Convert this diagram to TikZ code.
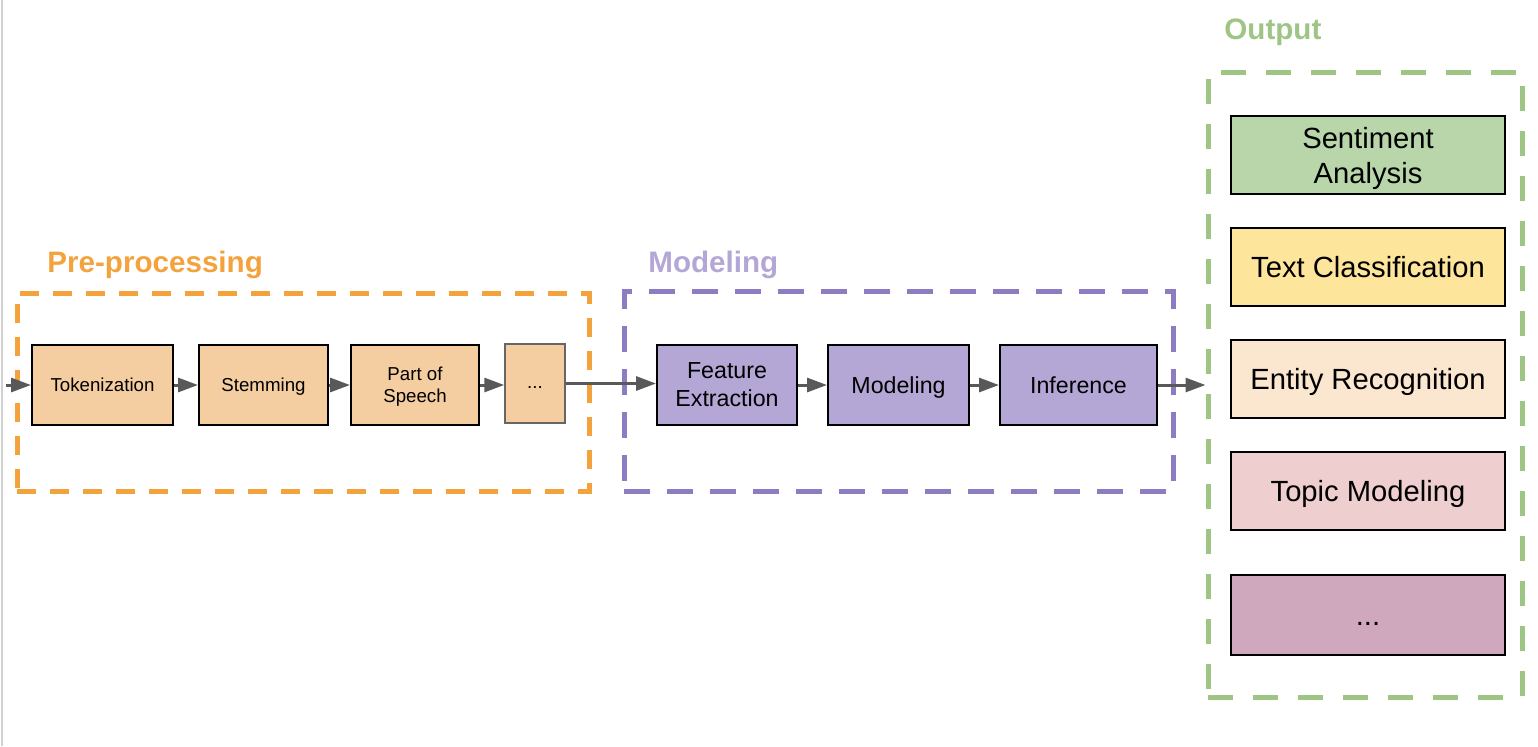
\documentclass[tikz,border=0pt]{standalone}
\usepackage{fontspec}
\setmainfont{Liberation Sans}
\usetikzlibrary{positioning, arrows.meta}

\definecolor{preline}{HTML}{F4A33C}
\definecolor{prefill}{HTML}{F4CDA0}
\definecolor{modline}{HTML}{8E7CC3}
\definecolor{modfill}{HTML}{B4A7D6}
\definecolor{outline}{HTML}{9FC584}
\definecolor{sentfill}{HTML}{B8D6AA}
\definecolor{classfill}{HTML}{FDE59B}
\definecolor{entityfill}{HTML}{FBE6D0}
\definecolor{topicfill}{HTML}{EECECE}
\definecolor{morefill}{HTML}{D0A8BE}
\definecolor{arrowgray}{HTML}{595959}

\begin{document}
\begin{tikzpicture}[x=0.5pt, y=-0.5pt,
    % Styles
    stage/.style={draw=black, line width=1pt, align=center, inner sep=1pt, text depth=0pt, minimum height=40pt},
    prebox/.style={stage, fill=prefill, font=\fontsize{9.35}{11}\selectfont},
    modbox/.style={stage, fill=modfill, font=\fontsize{11.6}{14}\selectfont},
    outbox/.style={stage, minimum width=137pt, minimum height=39pt, font=\fontsize{14.6}{17.5}\selectfont},
    frame/.style={line width=2.5pt, inner sep=0pt},
    title/.style={font=\fontsize{14.8}{17}\selectfont\bfseries, anchor=west, inner sep=0pt, text depth=0pt},
    flow/.style={-{Triangle[length=10pt, width=7pt]}, line width=1.5pt, arrowgray},
]
\useasboundingbox (0,0) rectangle (1538,746);

% Screen edge
\draw[black!18, line width=1pt] (2,0) -- (2,746);

% Dashed frames
\node[frame, draw=preline, dash pattern=on 9.5pt off 7pt, minimum width=286pt, minimum height=99pt] (preframe) at (303, 392) {};
\node[frame, draw=modline, dash pattern=on 13pt off 8.5pt, minimum width=274.5pt, minimum height=100pt] (modframe) at (898.5, 391) {};
\node[frame, draw=outline, dash pattern=on 12.5pt off 10pt, minimum width=157pt, minimum height=312.5pt] (outframe) at (1365, 384.5) {};

% Titles
\node[title, text=preline] (pretitle) at (47, 262) {Pre-processing};
\node[title, text=modfill] (modtitle) at (648, 262) {Modeling};
\node[title, text=outline] (outtitle) at (1224, 29) {Output};

% Pre-processing
\coordinate (start) at (6, 385);
\node[prebox, minimum width=70.5pt] (tok) at (102.5, 385) {Tokenization};
\node[prebox, minimum width=64.5pt] (stem) at (263.5, 385) {Stemming};
\node[prebox, minimum width=64pt] (pos) at (415, 385) {Part of\\Speech};
\node[prebox, draw=black!60, line width=0.75pt, text height=5pt, minimum width=30pt, minimum height=39.5pt] (dots) at (535, 383.5) {...};

% Modeling
\node[modbox, minimum width=70pt] (feat) at (727, 385) {Feature\\Extraction};
\node[modbox, minimum width=70.5pt] (model) at (898.5, 385) {Modeling};
\node[modbox, minimum width=78.5pt] (inf) at (1078.5, 385) {Inference};

% Output
\node[outbox, fill=sentfill] (sent) at (1368, 155) {Sentiment\\Analysis};
\node[outbox, fill=classfill] (class) at (1368, 267) {Text Classification};
\node[outbox, fill=entityfill] (entity) at (1368, 379) {Entity Recognition};
\node[outbox, fill=topicfill] (topic) at (1368, 491) {Topic Modeling};
\node[outbox, fill=morefill, text height=10.5pt, minimum height=40pt] (more) at (1368, 615) {...};

% Connectors
\draw[flow] (start) -- (tok);
\draw[flow] (tok) -- (stem);
\draw[flow] (stem) -- (pos);
\draw[flow] (pos) -- (pos -| dots.west);
\draw[flow] (dots) -- (dots -| feat.west);
\draw[flow] (feat) -- (model);
\draw[flow] (model) -- (inf);
\draw[flow] (inf) -- (inf -| outframe.west);

\end{tikzpicture}
\end{document}
